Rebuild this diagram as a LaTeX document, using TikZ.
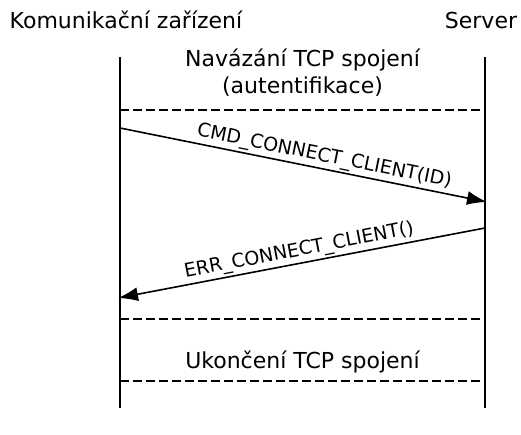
\documentclass[tikz,border=0pt]{standalone}
\usepackage{fontspec}
\setmainfont{DejaVu Sans}
\usetikzlibrary{arrows.meta}
\usetikzlibrary{positioning}

\begin{document}
\begin{tikzpicture}
[x = 1pt, y = -1pt, 
line/.style = {line width = 1.5pt}, 
sep/.style = {line width = 1.5pt, dash pattern = on 9pt off 4pt}, 
msg/.style = {-{Latex[length = 20pt, width = 14pt]}, line width = 1.6pt}, 
actor/.style = {font = \fontsize{22}{26}\selectfont}, 
note/.style = {font = \fontsize{22}{27}\selectfont, align = center}, 
label/.style = {sloped, above, inner sep = 2pt, font = \fontsize{19}{22}\selectfont}]

\useasboundingbox (0, 0) rectangle (521, 435);

\node[actor] (device) at (126, 20) {Komunikační zařízení};
\node[actor] (server) at (481, 20) {Server};

\coordinate (device top) at (120, 57);
\coordinate (device bottom) at (120, 408);
\coordinate (server top) at (485, 57);
\coordinate (server bottom) at (485, 408);

\draw[line] (device top) -- (device bottom);
\draw[line] (server top) -- (server bottom);

% sections
\node[note] (connect) at (302.5, 73) {Navázání TCP spojení\\(autentifikace)};
\node[note] (close) at (302.5, 362) {Ukončení TCP spojení};

\draw[sep] (120, 110) coordinate (s1a) -- (485, 110) coordinate (s1b);
\draw[sep] (120, 319) coordinate (s2a) -- (485, 319) coordinate (s2b);
\draw[sep] (120, 381) coordinate (s3a) -- (485, 381) coordinate (s3b);

% messages
\coordinate (cmd start) at (120, 128);
\coordinate (cmd end) at (487, 202);
\coordinate (err start) at (485, 228);
\coordinate (err end) at (118, 298);

\draw[msg] (cmd start) -- node[label, pos = 0.55] {CMD\_CONNECT\_CLIENT(ID)} (cmd end);
\draw[msg] (err start) -- node[label, pos = 0.5] {ERR\_CONNECT\_CLIENT()} (err end);
\end{tikzpicture}
\end{document}
